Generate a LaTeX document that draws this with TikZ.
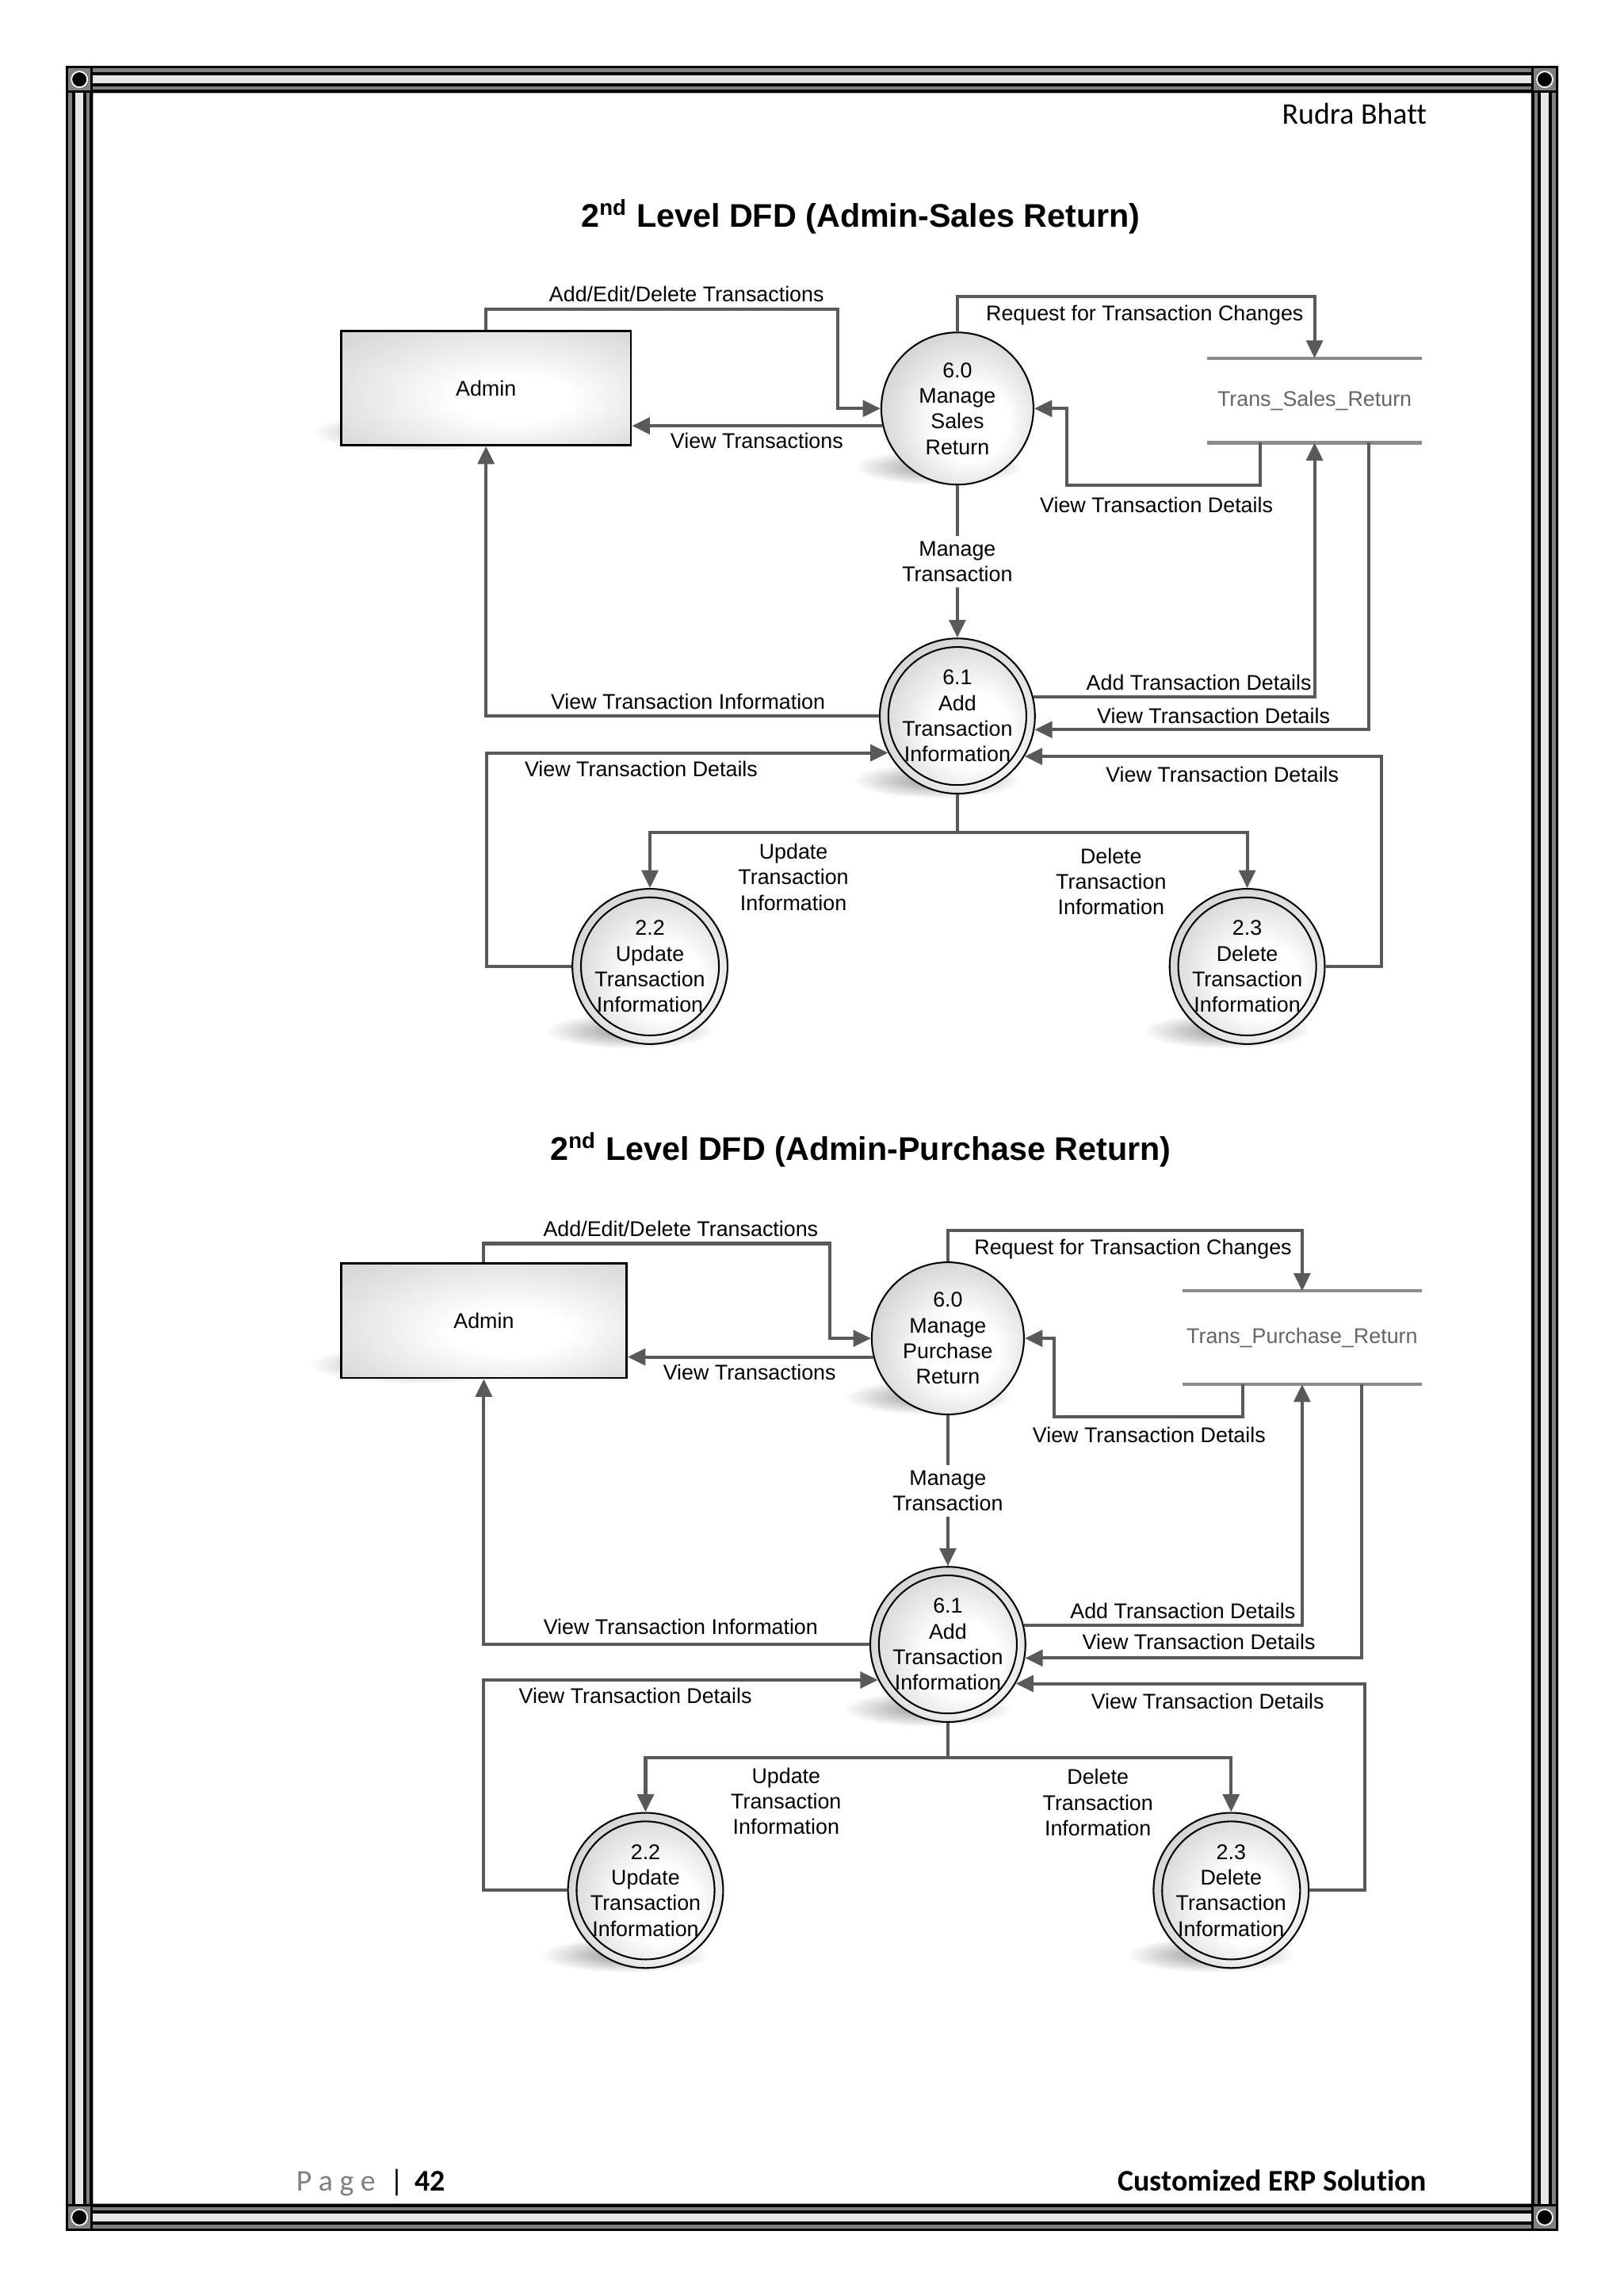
\documentclass[tikz,border=0pt]{standalone}
\usepackage{fontspec}
\setmainfont{Liberation Sans}
\newfontfamily\calibrifont[Ligatures=NoCommon]{Carlito}
\usetikzlibrary{arrows.meta,calc}
\definecolor{linegray}{HTML}{595959}
\definecolor{storegray}{HTML}{8C8C8C}
\definecolor{storetext}{HTML}{666666}
\definecolor{pagegray}{HTML}{7F7F7F}
\definecolor{stripegray}{HTML}{808080}
\definecolor{stripelight}{HTML}{E6E6E6}
\pgfdeclareradialshading{procshade}{\pgfpoint{6bp}{-6bp}}{color(0bp)=(white); color(12bp)=(white); color(31bp)=(black!19); color(50bp)=(black!19)}
\pgfdeclareradialshading{boxshade}{\pgfpoint{6bp}{-6bp}}{color(0bp)=(white); color(10bp)=(white); color(34bp)=(black!15); color(50bp)=(black!17)}
\pgfdeclarelayer{bgfill}
\pgfdeclarelayer{shadowlayer}
\pgfsetlayers{bgfill,shadowlayer,main}
\newcommand\lblfont{\fontsize{7.8}{9.4}\selectfont}
\newcommand\titlefont{\fontsize{12}{14.4}\selectfont\bfseries}
\newcommand\hdrfont{\calibrifont\fontsize{11}{13}\selectfont}
% soft cast shadow: node, dx, dy, x radius, y radius
\newcommand\castshadow[5]{\shade[inner color=black!42, outer color=white] ($(#1.center)+(#2,#3)$) ellipse[x radius=#4, y radius=#5];}
\tikzset{
  lbl/.style={font=\lblfont, align=center, inner sep=1pt, text=black},
  flow/.style={draw=linegray, line width=1.2pt, -{Triangle[length=6.5pt,width=6pt]}},
  flowline/.style={draw=linegray, line width=1.2pt},
  entity/.style={rectangle, draw=black, line width=0.8pt, shade, shading=boxshade, font=\lblfont, inner sep=0pt, minimum height=41.9pt},
  proc/.style={circle, draw=black, line width=0.6pt, shade, shading=procshade, font=\lblfont, align=center, inner sep=0pt, minimum size=55.8pt},
  dproc/.style={proc, minimum size=56.9pt, path picture={\draw[black, line width=0.6pt] (path picture bounding box.center) circle[radius=25.3pt];}},
  store/.style={rectangle, draw=none, font=\lblfont, text=storetext, inner sep=0pt},
  storeline/.style={draw=storegray, line width=1.2pt},
  title/.style={font=\titlefont, inner sep=0pt},
}
\begin{document}
\begin{tikzpicture}[x=0.5368pt, y=-0.5368pt]
\useasboundingbox (0,0) rectangle (1109,1568);
\begin{pgfonlayer}{bgfill}
\fill[white] (0,0) rectangle (1109,1568);
\end{pgfonlayer}
% ---------- page frame ----------
\fill[black, even odd rule] (45,45) rectangle (1064.5,1523.5) (63.5,63.5) rectangle (1046,1505);
\draw[stripegray, line width=1.34pt] (48.05,48.05) rectangle (1061.45,1520.45);
\draw[stripelight, line width=3.0pt] (54.3,54.3) rectangle (1055.2,1514.2);
\draw[stripegray, line width=1.29pt] (60.1,60.1) rectangle (1049.4,1508.4);
\foreach \cx/\cy in {45/45, 1046/45, 45/1505, 1046/1505} {
  \fill[black] (\cx,\cy) rectangle ++(18.5,18.5);
  \fill[stripegray] (\cx+1.8,\cy+1.8) rectangle ++(14.9,14.9);
  \filldraw[fill=black, draw=white, line width=0.5pt] (\cx+9.25,\cy+9.25) circle[radius=2.9pt];
}
% ---------- header / footer ----------
\node[anchor=base east, font=\hdrfont, inner sep=0pt] (hdr) at (975,84.5) {Rudra Bhatt};
\node[anchor=base west, font=\hdrfont, text=pagegray, inner sep=0pt] (pg) at (202,1496.5) {P a g e};
\node[anchor=base, font=\hdrfont, inner sep=0pt] (pgbar) at (271,1496.5) {|};
\node[anchor=base west, font=\hdrfont\bfseries, inner sep=0pt] (pgnum) at (283,1496.5) {42};
\node[anchor=base east, font=\hdrfont\bfseries, inner sep=0pt] (ftr) at (975,1496.5) {Customized ERP Solution};

% ================= Diagram 1 =================
\node[title] (t1) at (588,148) {2\textsuperscript{nd} Level DFD (Admin-Sales Return)};
\node[entity, minimum width=106.3pt] (adm1) at (332,265) {Admin};
\node[proc] (p60) at (654,279) {6.0\\Manage\\Sales\\Return};
\node[store, minimum width=78.4pt, minimum height=30.6pt] (ds1) at (898,273.5) {Trans\_Sales\_Return};
\draw[storeline] (ds1.north west) -- (ds1.north east) (ds1.south west) -- (ds1.south east);
\node[dproc] (p61) at (654,489) {6.1\\Add\\Transaction\\Information};
\node[dproc] (p22) at (444,660) {2.2\\Update\\Transaction\\Information};
\node[dproc] (p23) at (852,660) {2.3\\Delete\\Transaction\\Information};

\begin{pgfonlayer}{shadowlayer}
\castshadow{adm1}{-45}{30}{40pt}{7pt}
\castshadow{p60}{-13}{40}{31pt}{6.5pt}
\castshadow{p61}{-14}{44}{31pt}{6.5pt}
\castshadow{p22}{-14}{44}{31pt}{6.5pt}
\castshadow{p23}{-14}{44}{31pt}{6.5pt}
\end{pgfonlayer}

\draw[flow] (adm1.north) -- ++(0,-14) -| ($(p60.west)+(-29,0)$) -- (p60.west);
\draw[flow] (p60.193) -- (p60.193 -| adm1.east);
\draw[flow] (p60.north) -- ++(0,-24) -| (ds1.north);
\draw[flow] ($(ds1.south)+(-37,0)$) -- ++(0,29) -| ($(p60.east)+(22,0)$) -- (p60.east);
\draw[flow] (p60.south) -- node[lbl, fill=white, inner sep=2pt] (l1e) {Manage\\Transaction} (p61.north);
\draw[flow] (p61.west) -| (adm1.south);
\draw[flow] (p61.14) -| (ds1.south);
\draw[flow] ($(ds1.south)+(37,0)$) |- (p61.350);
\draw[flow] (p23.east) -- ++(38,0) |- (p61.329);
\draw[flow] (p22.west) -- ++(-58,0) |- (p61.208);
\draw[flowline] (p61.south) -- ++(0,26) coordinate (j1);
\draw[flow] (j1) -| (p22.north);
\draw[flow] (j1) -| (p23.north);

\node[lbl] (l1a) at (469,201) {Add/Edit/Delete Transactions};
\node[lbl] (l1b) at (517,301) {View Transactions};
\node[lbl] (l1c) at (782,215) {Request for Transaction Changes};
\node[lbl] (l1d) at (790,345) {View Transaction Details};
\node[lbl] (l1f) at (470,479) {View Transaction Information};
\node[lbl] (l1g) at (819,466) {Add Transaction Details};
\node[lbl] (l1h) at (829,489) {View Transaction Details};
\node[lbl] (l1i) at (438,525) {View Transaction Details};
\node[lbl] (l1j) at (835,529) {View Transaction Details};
\node[lbl] (l1k) at (542,599) {Update\\Transaction\\Information};
\node[lbl] (l1l) at (759,602) {Delete\\Transaction\\Information};

% ================= Diagram 2 =================
\node[title] (t2) at (588,785) {2\textsuperscript{nd} Level DFD (Admin-Purchase Return)};
\node[entity, minimum width=104.7pt] (adm2) at (330.5,902) {Admin};
\node[proc] (q60) at (647.5,914) {6.0\\Manage\\Purchase\\Return};
\node[store, minimum width=87.5pt, minimum height=33.8pt] (ds2) at (889.5,913.5) {Trans\_Purchase\_Return};
\draw[storeline] (ds2.north west) -- (ds2.north east) (ds2.south west) -- (ds2.south east);
\node[dproc] (q61) at (647.5,1123) {6.1\\Add\\Transaction\\Information};
\node[dproc] (q22) at (441,1291) {2.2\\Update\\Transaction\\Information};
\node[dproc] (q23) at (841,1291) {2.3\\Delete\\Transaction\\Information};

\begin{pgfonlayer}{shadowlayer}
\castshadow{adm2}{-45}{30}{40pt}{7pt}
\castshadow{q60}{-13}{40}{31pt}{6.5pt}
\castshadow{q61}{-14}{44}{31pt}{6.5pt}
\castshadow{q22}{-14}{44}{31pt}{6.5pt}
\castshadow{q23}{-14}{44}{31pt}{6.5pt}
\end{pgfonlayer}

\draw[flow] (adm2.north) -- ++(0,-13) -| ($(q60.west)+(-28,0)$) -- (q60.west);
\draw[flow] (q60.194) -- (q60.194 -| adm2.east);
\draw[flow] (q60.north) -- ++(0,-21) -| (ds2.north);
\draw[flow] ($(ds2.south)+(-40.5,0)$) -- ++(0,22) -| ($(q60.east)+(20,0)$) -- (q60.east);
\draw[flow] (q60.south) -- node[lbl, fill=white, inner sep=2pt] (l2e) {Manage\\Transaction} (q61.north);
\draw[flow] (q61.west) -| (adm2.south);
\draw[flow] (q61.14) -| (ds2.south);
\draw[flow] ($(ds2.south)+(40.5,0)$) |- (q61.350);
\draw[flow] (q23.east) -- ++(38,0) |- (q61.330);
\draw[flow] (q22.west) -- ++(-57,0) |- (q61.207);
\draw[flowline] (q61.south) -- ++(0,24) coordinate (j2);
\draw[flow] (j2) -| (q22.north);
\draw[flow] (j2) -| (q23.north);

\node[lbl] (l2a) at (465,839) {Add/Edit/Delete Transactions};
\node[lbl] (l2b) at (512,937) {View Transactions};
\node[lbl] (l2c) at (774,853) {Request for Transaction Changes};
\node[lbl] (l2d) at (785,980) {View Transaction Details};
\node[lbl] (l2f) at (465,1111) {View Transaction Information};
\node[lbl] (l2g) at (808,1100) {Add Transaction Details};
\node[lbl] (l2h) at (819,1121) {View Transaction Details};
\node[lbl] (l2i) at (434,1158) {View Transaction Details};
\node[lbl] (l2j) at (825,1162) {View Transaction Details};
\node[lbl] (l2k) at (537,1230) {Update\\Transaction\\Information};
\node[lbl] (l2l) at (750,1231) {Delete\\Transaction\\Information};
\end{tikzpicture}
\end{document}
